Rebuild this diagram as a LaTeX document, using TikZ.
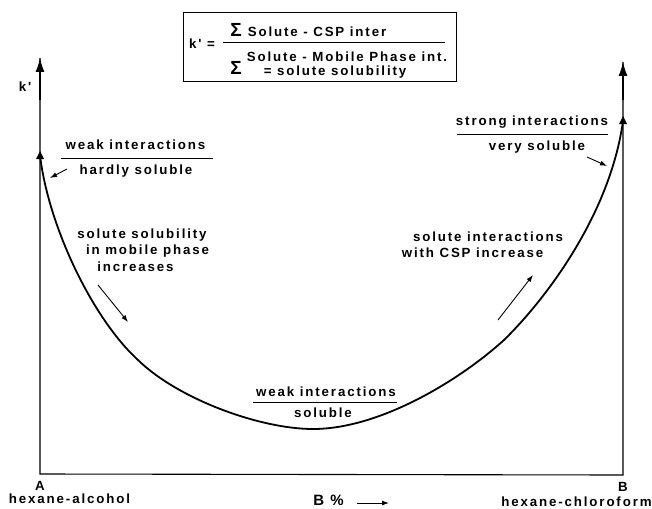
\documentclass[tikz,border=0pt]{standalone}
\usepackage{fontspec}
\setmainfont{Liberation Sans}
\newfontfamily\lblfont{Liberation Sans Bold}[LetterSpace=14]
\usetikzlibrary{arrows.meta}
\begin{document}
\begin{tikzpicture}[x=1pt,y=-1pt,
  txt/.style={font=\lblfont\fontsize{13.3}{15}\selectfont, inner sep=0pt},
  sig/.style={font=\lblfont\fontsize{19}{20}\selectfont, inner sep=0pt},
  axisline/.style={line width=1.1pt, -{Latex[length=14pt,width=9pt]}},
  smallarrow/.style={line width=0.9pt, -{Latex[length=7pt,width=5pt]}},
  rule/.style={line width=1pt},
  curve/.style={line width=1.8pt}]
\useasboundingbox (0,0) rectangle (652,508);

% formula box
\draw[line width=1pt] (183,13) rectangle (456,82);
\node[txt] (kp) at (202,44) {k' =};
\draw[rule] (223,43) -- (445,43);
\node[sig] (s1) at (236,30) {Σ};
\node[sig] (s2) at (236,68) {Σ};
\node[txt] (n1) at (317,32) {Solute - CSP inter};
\node[txt] (d1) at (347,57) {Solute - Mobile Phase int.};
\node[txt] (d2) at (335,72) {= solute solubility};

% axes
\coordinate (O) at (40,474);
\coordinate (Ytip) at (40,58);
\coordinate (Bend) at (623,475);
\coordinate (Y2tip) at (623,62);
\draw[line width=1.1pt] (Ytip) -- (O) -- (Bend) -- (Y2tip);
\draw[axisline] (40,100) -- (Ytip);
\draw[axisline] (623,100) -- (Y2tip);
\node[txt] (kl) at (25,87) {k'};

% curve
\coordinate (c0) at (40,155);
\coordinate (c1) at (138,360);
\coordinate (c2) at (313,429);
\coordinate (c3) at (504,340);
\coordinate (c4) at (623,121);
\draw[curve] (c0) .. controls (48,225) and (92,318) .. (c1)
  .. controls (178,399) and (260,429) .. (c2)
  .. controls (380,429) and (460,380) .. (c3)
  .. controls (545,300) and (610,215) .. (c4);
\fill (40,151) -- (36,159) -- (44,159) -- cycle;
\fill (623,116) -- (619,124) -- (627,124) -- cycle;

% top-left labels
\node[txt] (wl) at (135.5,145) {weak interactions};
\draw[rule] (61,158) -- (213,158);
\node[txt] (hs) at (136,171) {hardly soluble};
\coordinate (a1s) at (67,169);
\coordinate (a1e) at (50,178);
\draw[smallarrow] (a1s) -- (a1e);

% left middle
\node[txt] (l1) at (142,235) {solute solubility};
\node[txt] (l2) at (147.5,251) {in mobile phase};
\node[txt] (l3) at (135.5,267) {increases};
\coordinate (a2s) at (98,285);
\coordinate (a2e) at (128,322);
\draw[smallarrow] (a2s) -- (a2e);

% top-right labels
\node[txt] (sr) at (532,122) {strong interactions};
\draw[rule] (457,134) -- (608,134);
\node[txt] (vs) at (537,147) {very soluble};
\coordinate (a3s) at (587,157);
\coordinate (a3e) at (607,166);
\draw[smallarrow] (a3s) -- (a3e);

% right middle
\node[txt] (r1) at (488,237) {solute interactions};
\node[txt] (r2) at (472.5,253) {with CSP increase};
\coordinate (a4s) at (498,320);
\coordinate (a4e) at (533,275);
\draw[smallarrow] (a4s) -- (a4e);

% bottom middle
\node[txt] (wm) at (326,392) {weak interactions};
\draw[rule] (253,402) -- (397,402);
\node[txt] (sm) at (323,413) {soluble};

% bottom axis labels
\node[txt] (A) at (40,486) {A};
\node[txt] (ha) at (69.5,499) {hexane-alcohol};
\node[txt] (B) at (623,487) {B};
\node[txt] (hc) at (576.5,502) {hexane-chloroform};
\node[txt,font=\lblfont\fontsize{15}{17}\selectfont] (bp) at (328.5,500) {B \%};
\coordinate (a5s) at (357,503);
\coordinate (a5e) at (389,503);
\draw[smallarrow] (a5s) -- (a5e);
\end{tikzpicture}
\end{document}
